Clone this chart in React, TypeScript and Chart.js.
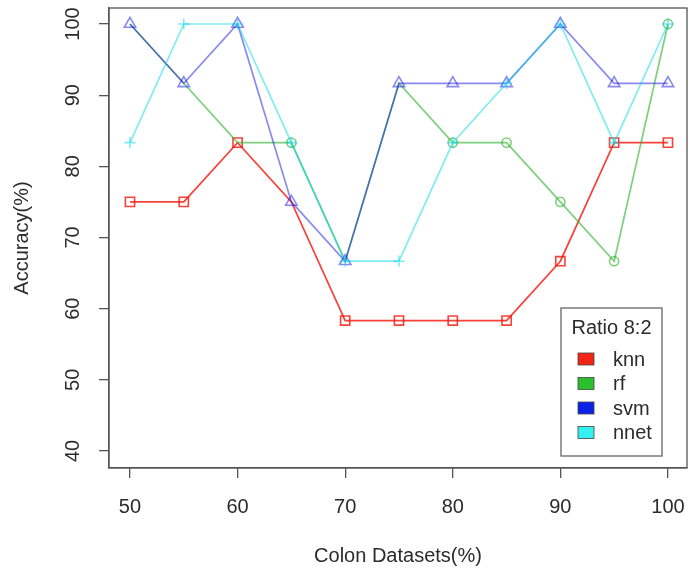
import React, { useEffect, useRef } from 'react';
import { Chart, registerables } from 'chart.js';

Chart.register(...registerables);

// ---- data ----
const xValues = [50, 55, 60, 65, 70, 75, 80, 85, 90, 95, 100];
const knnValues = [75, 75, 83.33, 75, 58.33, 58.33, 58.33, 58.33, 66.67, 83.33, 83.33];
const rfValues = [100, 91.67, 83.33, 83.33, 66.67, 91.67, 83.33, 83.33, 75, 66.67, 100];
const svmValues = [100, 91.67, 100, 75, 66.67, 91.67, 91.67, 91.67, 100, 91.67, 91.67];
const nnetValues = [83.33, 100, 100, 83.33, 66.67, 66.67, 83.33, 91.67, 100, 83.33, 100];
const seriesNames = ['knn', 'rf', 'svm', 'nnet'];
const xTickValues = [50, 60, 70, 80, 90, 100];
const yTickValues = [40, 50, 60, 70, 80, 90, 100];
const legendTitle = 'Ratio 8:2';
const xAxisTitle = 'Colon Datasets(%)';
const yAxisTitle = 'Accuracy(%)';

const FONT = "'Liberation Sans', Arial, Helvetica, sans-serif";
const TEXT = '#2b2b2b';
const AXIS = '#555555';

const lineColors = ['rgba(245,25,15,0.82)', 'rgba(40,175,40,0.6)', 'rgba(20,20,225,0.5)', 'rgba(0,215,235,0.5)'];
const legendColors = ['#f42414', '#2cbf2c', '#0a22e6', '#34f0f0'];
const pointStyles = ['rect', 'circle', 'triangle', 'cross'];
const pointRadii = [6.5, 4.6, 6.6, 5.6];
const allValues = [knnValues, rfValues, svmValues, nnetValues];
// marker precedence when markers coincide (higher wins): svm > knn > rf
const precedence = [2, 1, 3, 0];

const framePlugin = {
  id: 'rFrame',
  afterDatasetsDraw(chart: any) {
    const { ctx, chartArea } = chart;
    ctx.save();
    ctx.strokeStyle = AXIS;
    ctx.lineWidth = 1.3;
    ctx.strokeRect(chartArea.left, chartArea.top, chartArea.right - chartArea.left, chartArea.bottom - chartArea.top);
    ctx.restore();
  },
};

const legendPlugin = {
  id: 'rLegend',
  afterDraw(chart: any) {
    const { ctx, chartArea } = chart;
    const right = chartArea.right - 25;
    const bottom = chartArea.bottom - 12;
    const w = 101;
    const h = 148;
    const left = right - w;
    const top = bottom - h;
    ctx.save();
    ctx.fillStyle = '#ffffff';
    ctx.fillRect(left, top, w, h);
    ctx.strokeStyle = '#666';
    ctx.lineWidth = 1.3;
    ctx.strokeRect(left, top, w, h);
    ctx.font = `20px ${FONT}`;
    ctx.fillStyle = TEXT;
    ctx.textBaseline = 'middle';
    ctx.textAlign = 'center';
    ctx.fillText(legendTitle, left + w / 2, top + 20);
    ctx.textAlign = 'left';
    chart.data.datasets.forEach((ds: any, i: number) => {
      const cy = top + 51 + i * 24.5;
      ctx.fillStyle = legendColors[i];
      ctx.fillRect(left + 17, cy - 6, 16, 12);
      ctx.strokeStyle = '#444';
      ctx.lineWidth = 0.8;
      ctx.strokeRect(left + 17, cy - 6, 16, 12);
      ctx.fillStyle = TEXT;
      ctx.fillText(ds.label, left + 52, cy + 1);
    });
    ctx.restore();
  },
};

export default function App() {
  const canvasRef = useRef<HTMLCanvasElement | null>(null);

  useEffect(() => {
    if (!canvasRef.current) return;
    const datasets = seriesNames.map((name, s) => ({
      label: name,
      data: xValues.map((x, i) => ({ x, y: allValues[s][i] })),
      borderColor: lineColors[s],
      backgroundColor: 'rgba(0,0,0,0)',
      pointBorderColor: lineColors[s],
      pointBackgroundColor: 'rgba(0,0,0,0)',
      pointStyle: pointStyles[s],
      pointRadius: (ctx: any) => {
        const i = ctx.dataIndex;
        const v = allValues[s][i];
        if (pointStyles[s] !== 'cross') {
          for (let o = 0; o < allValues.length; o++) {
            if (o !== s && precedence[o] > precedence[s] && pointStyles[o] !== 'cross' && Math.abs(allValues[o][i] - v) < 0.01) {
              return 0;
            }
          }
        }
        return pointRadii[s];
      },
      pointBorderWidth: 1.6,
      borderWidth: 1.7,
      tension: 0,
      fill: false,
      order: 4 - s,
    }));

    const chart = new Chart(canvasRef.current, {
      type: 'line',
      data: { datasets },
      options: {
        animation: false,
        responsive: false,
        layout: { autoPadding: false, padding: { top: 8, right: 2, left: 0, bottom: 0 } },
        plugins: {
          legend: { display: false },
          tooltip: { enabled: false },
          title: { display: false },
        },
        scales: {
          x: {
            type: 'linear',
            min: 48.05,
            max: 101.77,
            afterBuildTicks: (scale: any) => {
              scale.ticks = xTickValues.map((v) => ({ value: v }));
            },
            afterFit: (scale: any) => {
              scale.height = 105;
              scale.paddingLeft = 0;
              scale.paddingRight = 0;
            },
            grid: { display: true, drawOnChartArea: false, drawTicks: true, tickLength: 10, color: AXIS, lineWidth: 1.3 },
            border: { display: true, color: AXIS, width: 1.3 },
            ticks: { font: { size: 20, family: FONT }, color: TEXT, padding: 17, maxRotation: 0, minRotation: 0, autoSkip: false },
            title: { display: true, text: xAxisTitle, font: { size: 20, family: FONT }, color: TEXT, padding: { top: 0, bottom: 5 } },
          },
          y: {
            type: 'linear',
            min: 37.61,
            max: 102.25,
            afterBuildTicks: (scale: any) => {
              scale.ticks = yTickValues.map((v) => ({ value: v }));
            },
            afterFit: (scale: any) => {
              scale.width = 109;
              scale.paddingTop = 0;
              scale.paddingBottom = 0;
            },
            grid: { display: true, drawOnChartArea: false, drawTicks: true, tickLength: 10, color: AXIS, lineWidth: 1.3 },
            border: { display: true, color: AXIS, width: 1.3 },
            ticks: { font: { size: 20, family: FONT }, color: TEXT, padding: 9, minRotation: 90, maxRotation: 90, crossAlign: 'center', autoSkip: false },
            title: { display: true, text: yAxisTitle, font: { size: 20, family: FONT }, color: TEXT, padding: { top: 10, bottom: 0 } },
          },
        },
      },
      plugins: [framePlugin, legendPlugin],
    } as any);

    return () => chart.destroy();
  }, []);

  return (
    <div style={{ position: 'absolute', left: 0, top: 0, width: 689, height: 573, background: '#fff' }}>
      <canvas ref={canvasRef} width={689} height={573} style={{ display: 'block' }} />
    </div>
  );
}
